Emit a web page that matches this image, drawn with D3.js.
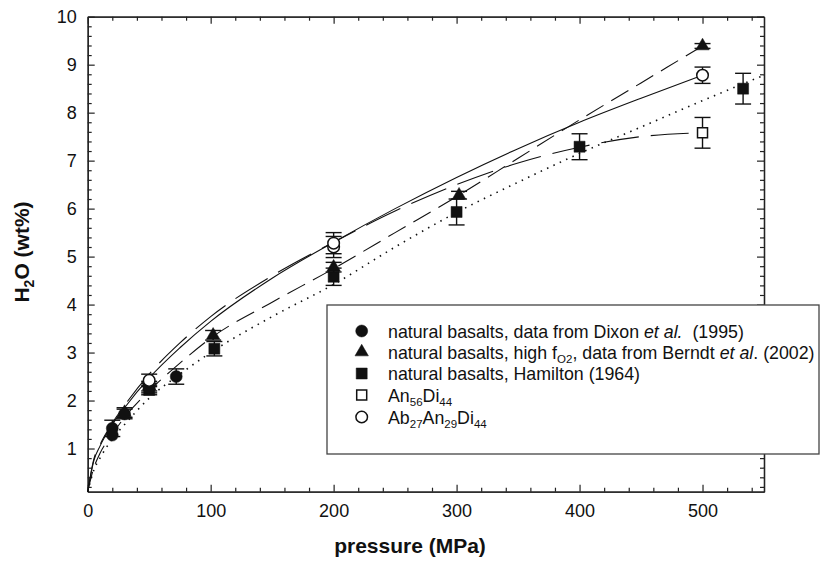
<!DOCTYPE html>
<html>
<head>
<meta charset="utf-8">
<script src="https://cdn.jsdelivr.net/npm/d3@7"></script>
<style>
  body { margin: 0; background: #fff; }
  svg { display: block; font-family: "Liberation Sans", Arial, sans-serif; }
</style>
</head>
<body>
<svg id="chart" width="822" height="562"></svg>
<script>
// measured points (pressure MPa, H2O wt%, error)
const dixonP = [20, 20, 30, 50, 72];
const dixonW = [1.42, 1.28, 1.72, 2.26, 2.50];
const dixonErr = [0.17, 0, 0.1, 0.1, 0.16];

const berndtP = [30, 50, 102, 200, 302, 500];
const berndtW = [1.75, 2.30, 3.36, 4.78, 6.28, 9.39];
const berndtErr = [0.1, 0.1, 0.1, 0.1, 0.08, 0.05];

const hamiltonP = [50, 103, 200, 300, 400, 533];
const hamiltonW = [2.22, 3.08, 4.58, 5.93, 7.29, 8.50];
const hamiltonErr = [0.1, 0.15, 0.18, 0.27, 0.27, 0.32];

const an56P = [500];
const an56W = [7.58];
const an56Err = [0.32];

const ab27P = [50, 200, 200, 500];
const ab27W = [2.42, 5.20, 5.28, 8.78];
const ab27Err = [0.13, 0.22, 0.22, 0.17];

// fitted curves
const curveP = [0, 5, 10, 20, 30, 50, 75, 100, 150, 200, 250, 300, 350, 400, 450, 500];
const solidW = [0.1, 0.75, 1.05, 1.5, 1.85, 2.47, 3.1, 3.65, 4.55, 5.3, 6.0, 6.65, 7.25, 7.8, 8.3, 8.78];
const longDashW = [0.1, 0.78, 1.08, 1.53, 1.9, 2.55, 3.2, 3.75, 4.6, 5.3, 5.95, 6.5, 6.95, 7.28, 7.5, 7.58];
const dashW = [0.1, 0.6, 0.9, 1.3, 1.65, 2.2, 2.78, 3.3, 4.05, 4.75, 5.5, 6.25, 7.05, 7.85, 8.62, 9.39];
const dottedP = [0, 5, 10, 20, 30, 50, 75, 100, 150, 200, 250, 300, 350, 400, 450, 500, 550];
const dottedW = [0.1, 0.55, 0.8, 1.2, 1.5, 2.05, 2.55, 3.0, 3.75, 4.42, 5.2, 5.92, 6.55, 7.15, 7.7, 8.25, 8.78];

const xTicks = [0, 100, 200, 300, 400, 500];
const yTicks = [1, 2, 3, 4, 5, 6, 7, 8, 9, 10];

const svg = d3.select("#chart");
const mLeft = 87.7, mRight = 764, mTop = 16.7, mBottom = 491.7;

const x = d3.scaleLinear().domain([0, 550]).range([mLeft, mRight]);
const y = d3.scaleLinear().domain([0.1, 10]).range([mBottom, mTop]);

const xMinor = d3.range(0, 551, 20).filter(v => v % 100 !== 0);
const yMinor = d3.range(2, 100, 2).map(v => v / 10).filter(v => Math.round(v * 10) % 10 !== 0);

function styleAxis(g) {
    g.select(".domain").attr("stroke", "#222").attr("stroke-width", 1.3);
    g.selectAll(".tick line").attr("stroke", "#222").attr("stroke-width", 1.2);
    g.selectAll("text").attr("fill", "#111").style("font-size", "18px")
        .style("font-family", "'Liberation Sans', Arial, sans-serif");
}

// axes, ticks pointing inward
svg.append("g").attr("transform", `translate(0,${mBottom})`)
    .call(d3.axisBottom(x).tickValues(xTicks).tickSizeInner(-7).tickSizeOuter(0).tickPadding(13))
    .call(styleAxis);
svg.append("g").attr("transform", `translate(0,${mBottom})`)
    .call(d3.axisBottom(x).tickValues(xMinor).tickSizeInner(-4).tickSizeOuter(0).tickFormat(""))
    .call(styleAxis);
svg.append("g").attr("transform", `translate(0,${mTop})`)
    .call(d3.axisTop(x).tickValues(xTicks).tickSizeInner(-7).tickSizeOuter(0).tickFormat(""))
    .call(styleAxis);
svg.append("g").attr("transform", `translate(0,${mTop})`)
    .call(d3.axisTop(x).tickValues(xMinor).tickSizeInner(-4).tickSizeOuter(0).tickFormat(""))
    .call(styleAxis);

svg.append("g").attr("transform", `translate(${mLeft},0)`)
    .call(d3.axisLeft(y).tickValues(yTicks).tickSizeInner(-7).tickSizeOuter(0).tickPadding(11))
    .call(styleAxis);
svg.append("g").attr("transform", `translate(${mLeft},0)`)
    .call(d3.axisLeft(y).tickValues(yMinor).tickSizeInner(-4).tickSizeOuter(0).tickFormat(""))
    .call(styleAxis);
svg.append("g").attr("transform", `translate(${mRight},0)`)
    .call(d3.axisRight(y).tickValues(yTicks).tickSizeInner(-7).tickSizeOuter(0).tickFormat(""))
    .call(styleAxis);
svg.append("g").attr("transform", `translate(${mRight},0)`)
    .call(d3.axisRight(y).tickValues(yMinor).tickSizeInner(-4).tickSizeOuter(0).tickFormat(""))
    .call(styleAxis);

// curves
const line = d3.line().x(d => x(d[0])).y(d => y(d[1])).curve(d3.curveMonotoneX);
const curves = [
    { p: curveP, w: solidW, dash: null },
    { p: curveP, w: longDashW, dash: "38,12" },
    { p: curveP, w: dashW, dash: "20,9" },
    { p: dottedP, w: dottedW, dash: "1.5,5.5" }
];
curves.forEach(c => {
    svg.append("path")
        .datum(d3.zip(c.p, c.w))
        .attr("d", line)
        .attr("fill", "none")
        .attr("stroke", "#111")
        .attr("stroke-width", c.dash && c.dash.startsWith("1.5") ? 1.6 : 1.1)
        .attr("stroke-dasharray", c.dash);
});

// error bars + markers
const series = [
    { p: hamiltonP, w: hamiltonW, e: hamiltonErr, type: d3.symbolSquare, size: 121, fill: "#111" },
    { p: berndtP, w: berndtW, e: berndtErr, type: d3.symbolTriangle, size: 78, fill: "#111" },
    { p: dixonP, w: dixonW, e: dixonErr, type: d3.symbolCircle, size: 113, fill: "#111" },
    { p: an56P, w: an56W, e: an56Err, type: d3.symbolSquare, size: 100, fill: "#fff" },
    { p: ab27P, w: ab27W, e: ab27Err, type: d3.symbolCircle, size: 105, fill: "#fff" }
];

series.forEach(s => {
    const pts = d3.zip(s.p, s.w, s.e);
    const eb = svg.append("g").attr("stroke", "#111").attr("stroke-width", 1.4);
    pts.filter(d => d[2] > 0).forEach(d => {
        const cx = x(d[0]), y1 = y(d[1] + d[2]), y2 = y(d[1] - d[2]);
        eb.append("line").attr("x1", cx).attr("x2", cx).attr("y1", y1).attr("y2", y2);
        eb.append("line").attr("x1", cx - 8).attr("x2", cx + 8).attr("y1", y1).attr("y2", y1);
        eb.append("line").attr("x1", cx - 8).attr("x2", cx + 8).attr("y1", y2).attr("y2", y2);
    });
    svg.append("g").selectAll("path")
        .data(pts)
        .join("path")
        .attr("transform", d => `translate(${x(d[0])},${y(d[1])})`)
        .attr("d", d3.symbol(s.type, s.size))
        .attr("fill", s.fill)
        .attr("stroke", "#111")
        .attr("stroke-width", s.fill === "#fff" ? 1.5 : 0.5);
});

// legend
const legend = svg.append("g");
legend.append("rect")
    .attr("x", 327).attr("y", 305).attr("width", 492).attr("height", 149)
    .attr("fill", "#fff").attr("stroke", "#444").attr("stroke-width", 1.3);

const legendRows = [
    { type: d3.symbolCircle, size: 113, fill: "#111", parts: [["natural basalts, data from Dixon "], ["et al.", "i"], ["  (1995)"]] },
    { type: d3.symbolTriangle, size: 78, fill: "#111", parts: [["natural basalts, high f"], ["O2", "sub"], [", data from Berndt "], ["et al", "i"], [". (2002)"]] },
    { type: d3.symbolSquare, size: 121, fill: "#111", parts: [["natural basalts, Hamilton (1964)"]] },
    { type: d3.symbolSquare, size: 100, fill: "#fff", parts: [["An"], ["56", "sub"], ["Di"], ["44", "sub"]] },
    { type: d3.symbolCircle, size: 105, fill: "#fff", parts: [["Ab"], ["27", "sub"], ["An"], ["29", "sub"], ["Di"], ["44", "sub"]] }
];
const rowY = [331, 352, 373.5, 395, 417];

legendRows.forEach((r, i) => {
    legend.append("path")
        .attr("transform", `translate(361.7,${rowY[i]})`)
        .attr("d", d3.symbol(r.type, r.size))
        .attr("fill", r.fill)
        .attr("stroke", "#111")
        .attr("stroke-width", r.fill === "#fff" ? 1.5 : 0.5);
    const t = legend.append("text")
        .attr("x", 388).attr("y", rowY[i] + 6.5)
        .attr("fill", "#111")
        .style("font-size", "17.8px")
        .attr("xml:space", "preserve");
    let shifted = false;
    r.parts.forEach(([txt, kind]) => {
        const ts = t.append("tspan").text(txt);
        if (kind === "sub") {
            ts.style("font-size", "11.5px").attr("dy", shifted ? null : 4);
            shifted = true;
        } else {
            if (shifted) { ts.attr("dy", -4); shifted = false; }
            if (kind === "i") ts.style("font-style", "italic");
        }
    });
});

// axis titles
const yLab = svg.append("text")
    .attr("transform", "translate(28.5,252) rotate(-90)")
    .attr("text-anchor", "middle")
    .attr("fill", "#111")
    .style("font-size", "21px").style("font-weight", "bold");
yLab.append("tspan").text("H");
yLab.append("tspan").text("2").style("font-size", "14px").attr("dy", 5);
yLab.append("tspan").text("O (wt%)").attr("dy", -5);

svg.append("text")
    .attr("x", 410).attr("y", 553)
    .attr("text-anchor", "middle")
    .attr("fill", "#111")
    .style("font-size", "21px").style("font-weight", "bold")
    .text("pressure (MPa)");
</script>
</body>
</html>
